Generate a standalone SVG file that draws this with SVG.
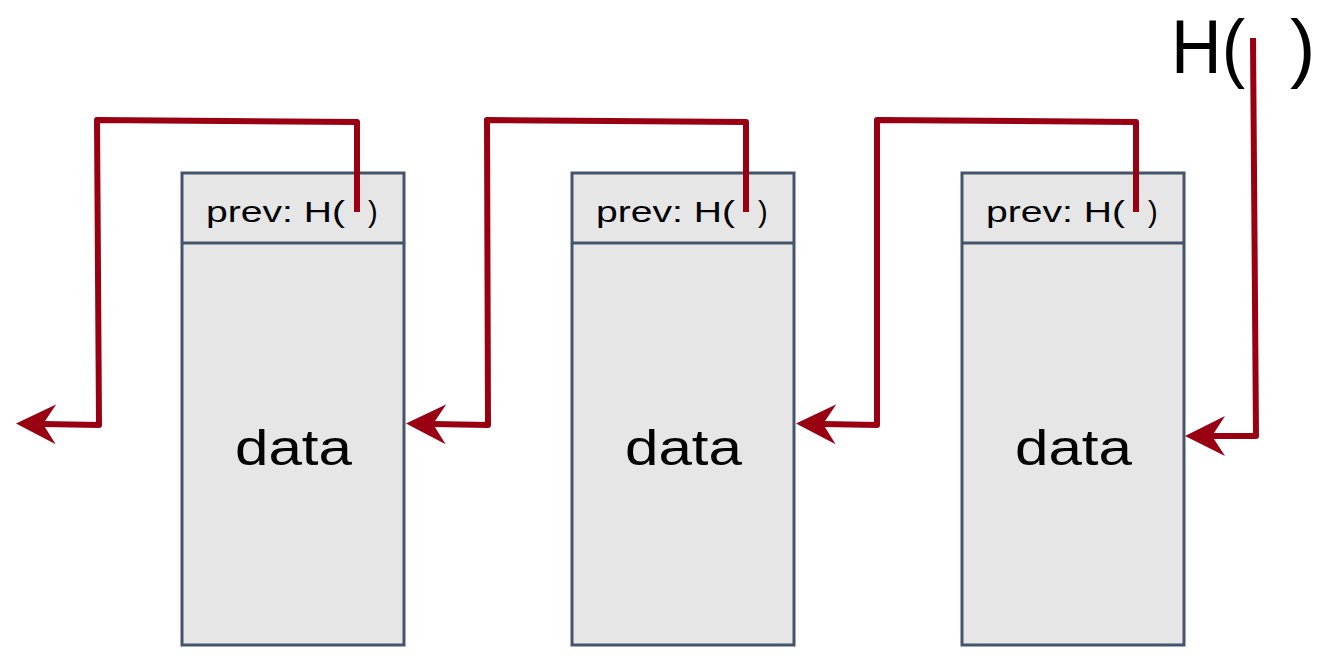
<svg xmlns="http://www.w3.org/2000/svg" width="1344" height="666" viewBox="0 0 1344 666">
<style>
.box{fill:#e6e6e6;stroke:#44546a;stroke-width:3}
.t{font-family:"Liberation Sans",Arial,sans-serif;fill:#000}
.hd{font-size:29px}
.dt{font-size:50px}
.big{font-size:76px}
.c{fill:none;stroke:#990012;stroke-width:6;stroke-linejoin:round}
</style>
<defs>
<marker id="ah" markerUnits="userSpaceOnUse" viewBox="0 0 40 40" markerWidth="40" markerHeight="40" refX="13" refY="20" orient="auto">
<path d="M40,20 L0,0 L13,20 L0,40 Z" fill="#990012"/>
</marker>
</defs>
<rect width="1344" height="666" fill="#fff"/>
<g id="block1">
<rect class="box" x="182" y="173" width="222" height="472"/>
<line class="box" x1="182" y1="243" x2="404" y2="243"/>
<text class="t hd" x="206" y="222" textLength="139" lengthAdjust="spacingAndGlyphs">prev: H(</text>
<text class="t hd" x="368" y="222">)</text>
<text class="t dt" x="235" y="465" textLength="117" lengthAdjust="spacingAndGlyphs">data</text>
</g>
<g id="block2">
<rect class="box" x="572" y="173" width="222" height="472"/>
<line class="box" x1="572" y1="243" x2="794" y2="243"/>
<text class="t hd" x="596" y="222" textLength="139" lengthAdjust="spacingAndGlyphs">prev: H(</text>
<text class="t hd" x="758" y="222">)</text>
<text class="t dt" x="625" y="465" textLength="117" lengthAdjust="spacingAndGlyphs">data</text>
</g>
<g id="block3">
<rect class="box" x="962" y="173" width="222" height="472"/>
<line class="box" x1="962" y1="243" x2="1184" y2="243"/>
<text class="t hd" x="986" y="222" textLength="139" lengthAdjust="spacingAndGlyphs">prev: H(</text>
<text class="t hd" x="1148" y="222">)</text>
<text class="t dt" x="1015" y="465" textLength="117" lengthAdjust="spacingAndGlyphs">data</text>
</g>
<g id="head">
<text class="t big" x="1171" y="73" textLength="74" lengthAdjust="spacingAndGlyphs">H(</text>
<text class="t big" x="1290" y="73">)</text>
</g>
<g id="connectors">
<path class="c" marker-end="url(#ah)" d="M357,212 L357,122 L97,120 L99,425 L43,424"/>
<path class="c" marker-end="url(#ah)" d="M746,212 L746,122 L487,120 L488,425 L433,424"/>
<path class="c" marker-end="url(#ah)" d="M1136,212 L1136,122 L877,120 L877,425 L823,424"/>
<path class="c" marker-end="url(#ah)" d="M1253,38 L1256,436 L1212,436"/>
</g>
</svg>
